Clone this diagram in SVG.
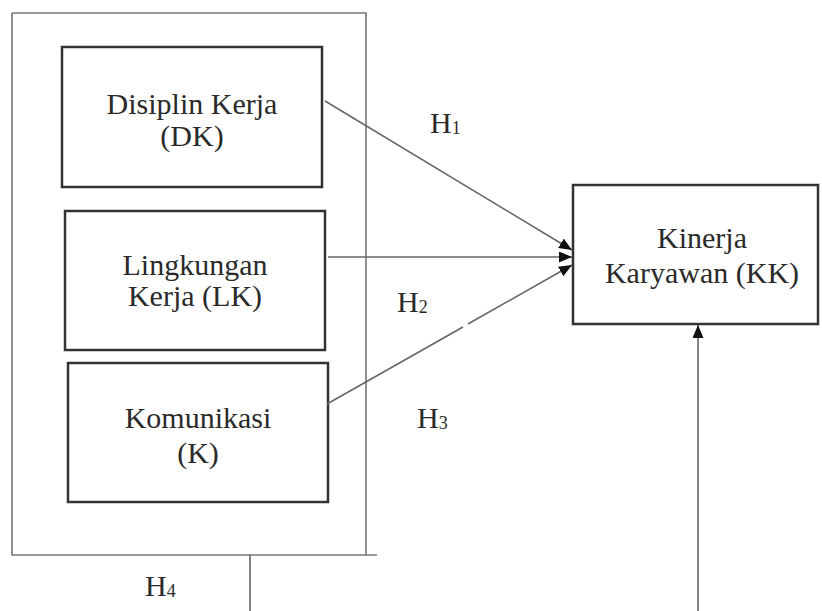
<svg xmlns="http://www.w3.org/2000/svg" width="822" height="611" viewBox="0 0 822 611">
<style>
  .box{fill:#fff;stroke:#333;stroke-width:2.5}
  .frame{fill:none;stroke:#777;stroke-width:1.6}
  .conn{fill:none;stroke:#666;stroke-width:1.6}
  text{font-family:"Liberation Serif","Times New Roman",serif;font-size:30px;fill:#2a2a2a}
  .c{text-anchor:middle}
  .sub{font-size:18px}
</style>
<defs>
  <marker id="ah" markerWidth="13" markerHeight="11" refX="13" refY="5.5" orient="auto" markerUnits="userSpaceOnUse">
    <path d="M0,0 L13,5.5 L0,11 Z" fill="#111"/>
  </marker>
</defs>
<rect width="822" height="611" fill="#fff"/>
<g id="frame">
  <path class="frame" d="M12,13 L366,13 L366,555 M12,13 L12,555 L377,555"/>
</g>
<g id="dk">
  <rect class="box" x="62" y="47" width="260" height="140"/>
  <text class="c" x="192" y="114">Disiplin Kerja</text>
  <text class="c" x="192" y="146">(DK)</text>
</g>
<g id="lk">
  <rect class="box" x="65" y="211" width="260" height="139"/>
  <text class="c" x="195" y="275">Lingkungan</text>
  <text class="c" x="195" y="306">Kerja (LK)</text>
</g>
<g id="k">
  <rect class="box" x="68" y="363" width="260" height="139"/>
  <text class="c" x="198" y="428">Komunikasi</text>
  <text class="c" x="198" y="463">(K)</text>
</g>
<g id="kk">
  <rect class="box" x="573" y="185" width="245" height="139"/>
  <text class="c" x="702" y="248">Kinerja</text>
  <text class="c" x="702" y="283">Karyawan (KK)</text>
</g>
<g id="connectors">
  <line class="conn" x1="325" y1="101" x2="572" y2="250" marker-end="url(#ah)"/>
  <line class="conn" x1="328" y1="257" x2="572" y2="257" marker-end="url(#ah)"/>
  <path class="conn" d="M327,404 L463,327"/>
  <line class="conn" x1="468" y1="324" x2="572" y2="265" marker-end="url(#ah)"/>
  <line class="conn" x1="250" y1="555" x2="250" y2="611"/>
  <line class="conn" x1="698" y1="611" x2="698" y2="325" marker-end="url(#ah)"/>
</g>
<g id="labels">
  <text x="430" y="133">H<tspan class="sub" dy="1">1</tspan></text>
  <text x="397" y="312">H<tspan class="sub" dy="1">2</tspan></text>
  <text x="417" y="428">H<tspan class="sub" dy="1">3</tspan></text>
  <text x="145" y="596">H<tspan class="sub" dy="1">4</tspan></text>
</g>
</svg>
